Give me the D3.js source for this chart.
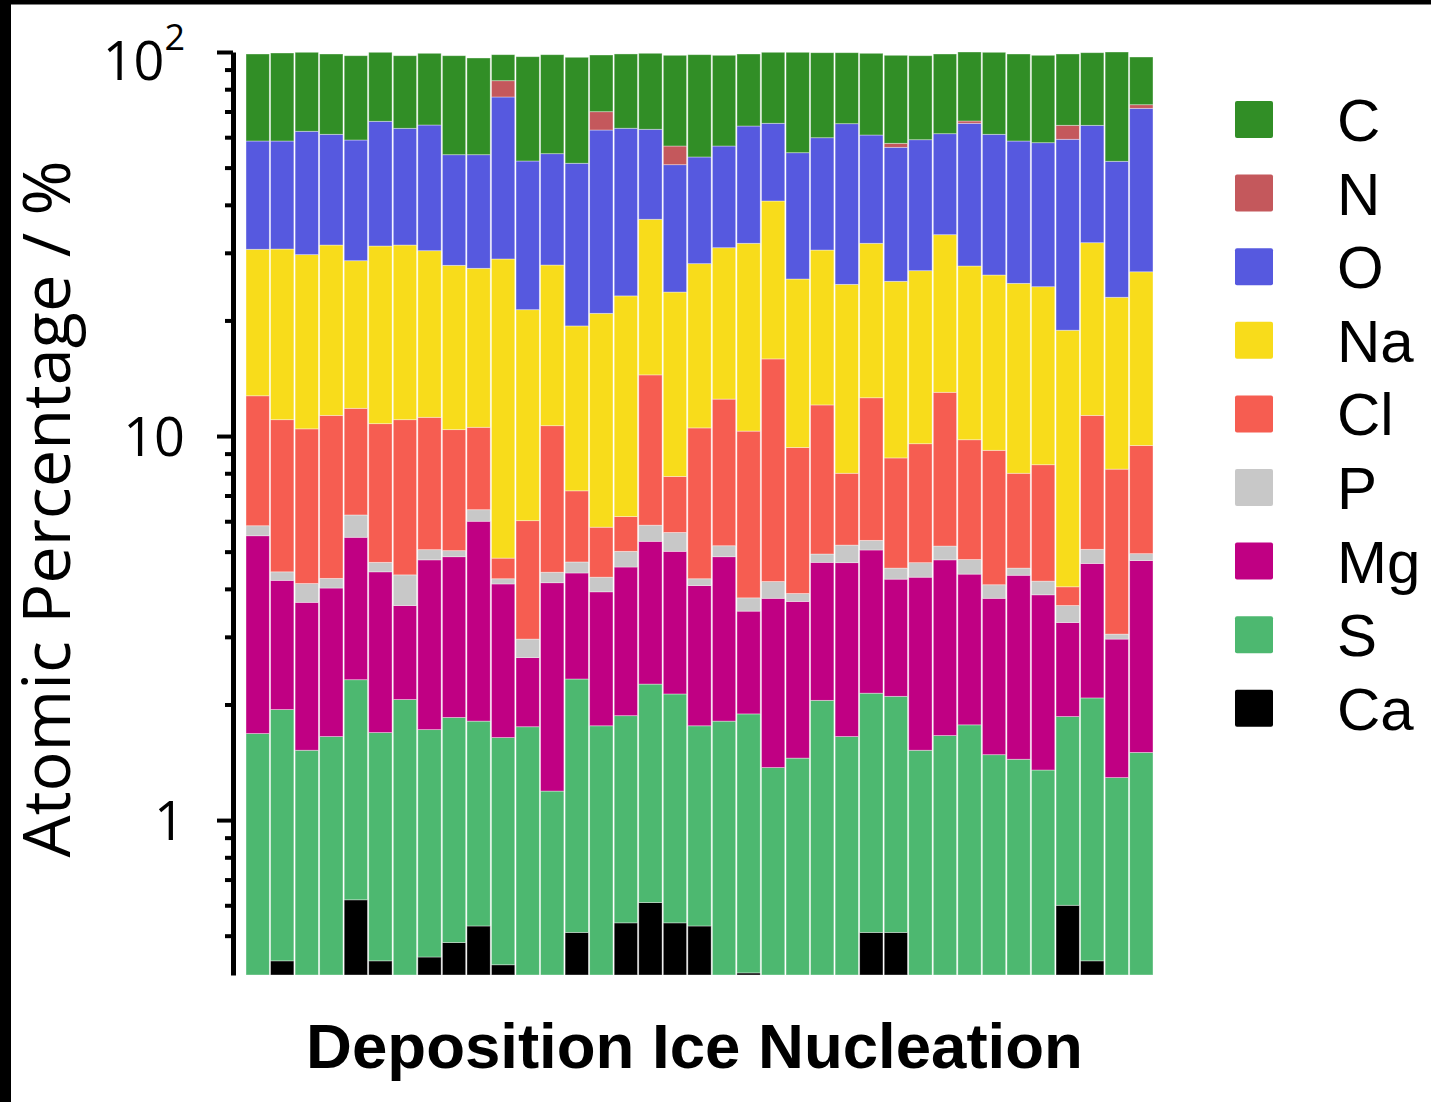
<!DOCTYPE html>
<html>
<head>
<meta charset="utf-8">
<script src="https://cdn.jsdelivr.net/npm/d3@7"></script>
<style>
  body { margin: 0; background: #fff; }
  svg { display: block; }
</style>
</head>
<body>
<svg id="chart" width="1431" height="1102"></svg>
<script>
// one bar per particle, 37 particles
const particles = d3.range(1, 38);

// atomic percentages (bar 1 .. bar 37)
const C  = [40.16, 40.76, 37.66, 37.76, 38.80, 33.82, 34.51, 34.67, 43.78, 42.45, 14.21, 45.20, 44.04, 45.56, 28.31, 35.52, 36.31, 41.13, 45.11, 41.13, 34.65, 34.61, 45.15, 39.76, 34.52, 38.43, 40.20, 38.70, 37.54, 34.30, 38.77, 40.17, 39.99, 34.38, 35.15, 48.68, 24.14];
const N  = [0, 0, 0, 0, 0, 0, 0, 0, 0, 0, 7.83, 0, 0, 0, 7.27, 0, 0, 6.03, 0, 0, 0, 0, 0, 0, 0, 0, 1.37, 0, 0, 0.91, 0, 0, 0, 5.18, 0, 0, 1.56];
const O  = [28.01, 27.95, 32.50, 29.62, 30.39, 34.75, 31.86, 34.17, 26.19, 26.68, 47.45, 30.69, 26.47, 31.97, 41.77, 40.14, 26.24, 27.17, 25.18, 25.98, 32.40, 24.29, 29.03, 29.31, 40.23, 29.03, 31.18, 32.15, 27.83, 37.49, 34.79, 33.66, 33.57, 40.40, 32.56, 28.95, 44.57];
const Na = [17.91, 19.66, 19.23, 20.11, 16.80, 20.48, 20.40, 19.19, 17.44, 16.80, 24.10, 15.31, 17.24, 12.15, 15.08, 17.00, 22.25, 15.86, 17.61, 18.45, 21.46, 25.05, 16.30, 18.45, 16.83, 19.18, 16.52, 17.40, 20.44, 17.94, 17.08, 16.98, 16.06, 14.81, 20.55, 14.78, 17.32];
const Cl = [6.89, 6.60, 6.31, 7.06, 5.58, 6.08, 6.68, 6.13, 5.36, 4.11, 0.56, 3.06, 6.22, 2.50, 1.50, 1.16, 8.57, 2.24, 6.25, 7.30, 6.51, 11.70, 5.45, 7.12, 2.80, 7.23, 4.24, 4.87, 7.83, 5.01, 5.08, 3.47, 4.23, 0.43, 6.25, 5.15, 4.51];
const P  = [0.34, 0.22, 0.44, 0.24, 0.78, 0.26, 0.73, 0.30, 0.18, 0.43, 0.13, 0.31, 0.27, 0.30, 0.36, 0.45, 0.54, 0.60, 0.17, 0.33, 0.29, 0.40, 0.18, 0.24, 0.52, 0.30, 0.29, 0.39, 0.41, 0.40, 0.32, 0.19, 0.33, 0.35, 0.41, 0.09, 0.20];
const Mg = [3.82, 2.27, 2.17, 2.37, 3.13, 2.74, 1.56, 3.04, 3.00, 4.19, 2.48, 0.90, 2.96, 2.07, 2.17, 2.69, 3.06, 2.88, 2.32, 3.04, 1.61, 2.41, 2.26, 2.64, 3.03, 2.91, 2.14, 2.77, 3.10, 2.60, 2.30, 2.90, 2.51, 1.41, 2.58, 1.67, 3.24];
const S  = [1.68, 1.51, 1.52, 1.65, 1.70, 1.26, 2.06, 1.28, 1.37, 1.28, 1.22, 1.75, 1.19, 1.82, 1.76, 1.33, 1.65, 1.59, 1.23, 1.81, 1.49, 1.37, 1.45, 2.05, 1.65, 1.63, 1.59, 1.52, 1.66, 1.77, 1.48, 1.44, 1.35, 1.26, 1.65, 1.29, 1.50];
const Ca = [0, 0.43, 0, 0, 0.62, 0.43, 0, 0.44, 0.48, 0.53, 0.42, 0, 0, 0.51, 0, 0.54, 0.61, 0.54, 0.53, 0, 0.40, 0, 0, 0, 0, 0.51, 0.51, 0, 0, 0, 0, 0, 0, 0.60, 0.43, 0, 0];

const elements = ["C", "N", "O", "Na", "Cl", "P", "Mg", "S", "Ca"];
const colors = ["#318e26", "#c4585c", "#5659df", "#f8dc1b", "#f65d51", "#c8c8c8", "#c00083", "#4db870", "#000000"];

const W = 1431, H = 1102;
const yMin = 0.395;

const svg = d3.select("#chart");

// black frame strips (left and top) as in the picture
svg.append("rect").attr("width", W).attr("height", H).attr("fill", "#fff");
svg.append("rect").attr("x", 0).attr("y", 0).attr("width", 11).attr("height", H).attr("fill", "#000");
svg.append("rect").attr("x", 0).attr("y", 0).attr("width", W).attr("height", 4.5).attr("fill", "#000");

const series = {C, N, O, Na, Cl, P, Mg, S, Ca};
const rows = particles.map((p, i) => {
  const r = {id: p};
  elements.forEach(e => r[e] = series[e][i]);
  return r;
});

// stack from the bottom: Ca, S, Mg, P, Cl, Na, O, N, C
const stacked = d3.stack().keys(elements.slice().reverse())(rows);

const x = d3.scaleBand()
            .domain(particles)
            .range([245.4, 1153.6])
            .paddingInner(0.05)
            .paddingOuter(0.025);
const y = d3.scaleLog()
            .domain([yMin, 100])
            .range([975, 52])
            .clamp(true);
const color = d3.scaleOrdinal(elements, colors);

svg.append("g")
   .selectAll("g")
   .data(stacked)
   .join("g")
   .attr("fill", d => color(d.key))
   .selectAll("rect")
   .data(d => d.filter(s => s[1] - s[0] > 0))
   .join("rect")
   .attr("x", s => x(s.data.id))
   .attr("width", x.bandwidth())
   .attr("y", s => y(s[1]))
   .attr("height", s => y(Math.max(s[0], yMin)) - y(s[1]))
   .attr("stroke", "#ffffff")
   .attr("stroke-opacity", 0.45)
   .attr("stroke-width", 0.8);

// y axis, log ticks
const isMajor = v => Math.abs(Math.log10(v) - Math.round(Math.log10(v))) < 1e-9;
const ticks = y.ticks().filter(v => v >= 0.45);

const axis = svg.append("g")
                .attr("transform", "translate(233,0)")
                .call(d3.axisLeft(y).tickValues(ticks).tickFormat("").tickSizeOuter(0));
axis.select(".domain").attr("stroke", "#000").attr("stroke-width", 5);
axis.selectAll(".tick line")
    .attr("stroke", "#000")
    .attr("stroke-width", 4)
    .attr("x2", d => isMajor(d) ? -16 : -8);

// tick labels
const tickFont = "'Open Sans', 'DejaVu Sans', sans-serif";
const topLabel = svg.append("text")
                    .attr("x", 185).attr("y", 80)
                    .attr("text-anchor", "end")
                    .attr("font-family", tickFont)
                    .attr("font-size", 54);
topLabel.append("tspan").text("10");
topLabel.append("tspan").attr("font-size", 36).attr("dy", -30).text("2");

svg.append("text")
   .attr("x", 185).attr("y", y(10) + 20)
   .attr("text-anchor", "end")
   .attr("font-family", tickFont)
   .attr("font-size", 54)
   .text("10");
svg.append("text")
   .attr("x", 185).attr("y", y(1) + 20)
   .attr("text-anchor", "end")
   .attr("font-family", tickFont)
   .attr("font-size", 54)
   .text("1");

// y title
const yTitle = svg.append("text")
                  .attr("text-anchor", "middle")
                  .attr("font-family", tickFont)
                  .attr("font-size", 64)
                  .text("Atomic Percentage / %");
let fs = 64 * 697 / yTitle.node().getComputedTextLength();
yTitle.attr("font-size", fs)
      .attr("transform", "translate(" + (22 + 0.72 * fs) + ",509) rotate(-90)");

// x title
const xTitle = svg.append("text")
                  .attr("x", 694.5).attr("y", 1068)
                  .attr("text-anchor", "middle")
                  .attr("font-family", "'Liberation Sans', Arial, sans-serif")
                  .attr("font-weight", "bold")
                  .attr("font-size", 65)
                  .text("Deposition Ice Nucleation");
xTitle.attr("font-size", 65 * 777 / xTitle.node().getComputedTextLength());

// legend
const legend = svg.append("g")
                  .selectAll("g")
                  .data(elements)
                  .join("g")
                  .attr("transform", (d, i) => "translate(1235," + (101 + i * 73.6) + ")");
legend.append("rect")
      .attr("width", 38).attr("height", 37).attr("rx", 2)
      .attr("fill", d => color(d));
legend.append("text")
      .attr("x", 102).attr("y", 40)
      .attr("font-family", "'Liberation Sans', Arial, sans-serif")
      .attr("font-size", 60)
      .text(d => d);
</script>
</body>
</html>
